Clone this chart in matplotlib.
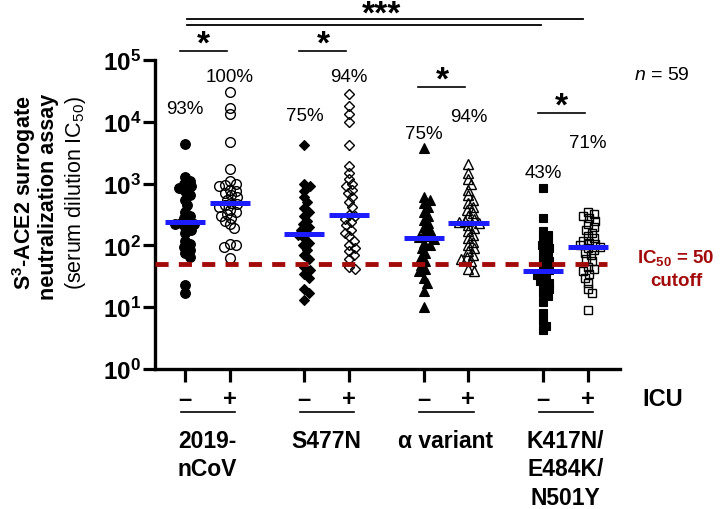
import numpy as np
import matplotlib
matplotlib.use('Agg')
import matplotlib.pyplot as plt
from matplotlib.lines import Line2D
from matplotlib.ticker import NullLocator
from matplotlib.transforms import blended_transform_factory

# フォント設定（Arial 互換）
plt.rcParams['font.family'] = ['Liberation Sans', 'DejaVu Sans']
plt.rcParams['mathtext.fontset'] = 'custom'
plt.rcParams['mathtext.rm'] = 'Liberation Sans'
plt.rcParams['mathtext.it'] = 'Liberation Sans:italic'
plt.rcParams['mathtext.bf'] = 'Liberation Sans:bold'

# ---- データ----
variants = ['2019-\nnCoV', 'S477N', 'α variant', 'K417N/\nE484K/\nN501Y']
icu_labels = ['–', '+']
cutoff = 50
n_total = 59

ncov_neg = [4400, 1300, 1100, 1000, 900, 850, 750, 650, 550, 450, 350, 300, 280, 240,
            230, 225, 220, 200, 180, 160, 120, 105, 95, 85, 75, 65, 23, 17]
ncov_pos = [30000, 17000, 13500, 4700, 1700, 1100, 1000, 950, 900, 800, 750, 700, 650,
            600, 550, 480, 470, 450, 420, 380, 350, 320, 300, 280, 250, 220, 190, 105,
            100, 95, 62]
s477n_neg = [4200, 1000, 900, 750, 600, 500, 400, 350, 300, 250, 220, 200, 180, 160,
             150, 130, 110, 100, 85, 70, 60, 45, 40, 35, 30, 20, 17, 13]
s477n_pos = [28000, 18000, 13500, 10000, 4200, 1900, 1500, 1200, 1000, 900, 800, 700,
             600, 500, 420, 310, 300, 270, 240, 210, 180, 160, 140, 120, 100, 90, 80,
             70, 60, 45, 42]
alpha_neg = [3800, 600, 550, 480, 420, 350, 300, 260, 230, 200, 180, 160, 140, 135,
             125, 110, 100, 90, 75, 65, 55, 48, 42, 38, 30, 25, 18, 10]
alpha_pos = [2100, 1500, 1200, 1000, 800, 650, 550, 480, 420, 380, 340, 300, 270, 250,
             240, 230, 210, 190, 170, 150, 130, 115, 100, 90, 80, 70, 65, 60, 55, 42, 38]
triple_neg = [850, 280, 170, 150, 130, 110, 100, 90, 80, 70, 60, 55, 45, 40, 36, 33,
              30, 27, 25, 22, 20, 17, 15, 12, 8, 6, 5, 4.2]
triple_pos = [350, 320, 300, 280, 250, 220, 200, 180, 160, 140, 130, 120, 110, 105,
              100, 95, 90, 85, 75, 70, 60, 55, 45, 42, 38, 35, 30, 25, 20, 17, 9]

groups = [(ncov_neg, ncov_pos), (s477n_neg, s477n_pos),
          (alpha_neg, alpha_pos), (triple_neg, triple_pos)]
markers = ['o', 'D', '^', 's']
marker_sizes = [7.0, 5.6, 7.6, 6.4]

# ---- レイアウト ----
W, H = 720, 510
PX_UNIT = 44.7      # x 1 単位あたりのピクセル
PX_DECADE = 61.8    # y 1 桁あたりのピクセル
group_x = np.arange(4) * 2.67
pct_y = [110, 78, 117, 78, 135, 118, 173, 143]
bracket_y = [52, 52, 88, 114]
RED = '#a30b0b'
BLUE = '#1c1cff'


def fy(y_px):
    return 1 - y_px / H


def swarm_offsets(vals, min_dist=5.5, step=1.5, max_off=12.0):
    """値が重ならないように横方向のずらし量を決める（ビースウォーム風）"""
    vals = np.asarray(vals, dtype=float)
    y = np.log10(vals) * PX_DECADE
    cands = [0.0]
    k = 1
    while k * step <= max_off:
        cands += [k * step, -k * step]
        k += 1
    placed = []
    offs = np.zeros(len(vals))
    for i in np.argsort(-vals):
        best, best_d = 0.0, -1.0
        for o in cands:
            d = min([np.hypot(o - px, y[i] - py) for px, py in placed] or [1e9])
            if d >= min_dist:
                best = o
                break
            if d > best_d:
                best_d, best = d, o
        offs[i] = best
        placed.append((best, y[i]))
    return offs / PX_UNIT


fig = plt.figure(figsize=(W / 100, H / 100), dpi=100)
ax = fig.add_axes([155 / W, 140 / H, 465 / W, 309 / H])
bt = blended_transform_factory(ax.transData, fig.transFigure)

tick_pos = []
for g, (neg, pos) in enumerate(groups):
    for j, vals in enumerate([neg, pos]):
        x0 = group_x[g] + j
        tick_pos.append(x0)
        xs = x0 + swarm_offsets(vals)
        if j == 0:
            ax.plot(xs, vals, ls='none', marker=markers[g], ms=marker_sizes[g],
                    mfc='black', mec='black', mew=0.8, zorder=2)
        else:
            ax.plot(xs, vals, ls='none', marker=markers[g], ms=marker_sizes[g],
                    mfc='none', mec='black', mew=1.0, zorder=2)
        med = np.median(vals)
        ax.plot([x0 - 0.45, x0 + 0.45], [med, med], color=BLUE, lw=3.6,
                solid_capstyle='butt', zorder=5)
        # 50 を超える割合
        frac = np.mean(np.asarray(vals) > cutoff) * 100
        ax.text(x0, fy(pct_y[len(tick_pos) - 1]), f'{frac:.0f}%', transform=bt,
                ha='center', va='center', fontsize=13.5)

# カットオフ線
xmin, xmax = -30 / PX_UNIT, 435 / PX_UNIT
ax.plot([xmin, 422 / PX_UNIT], [cutoff, cutoff], color=RED, lw=3.5,
        dashes=(2.7, 2.1), zorder=4, clip_on=False)

ax.set_yscale('log')
ax.set_ylim(1, 1e5)
ax.set_xlim(xmin, xmax)
ax.set_yticks([10.0 ** k for k in range(6)])
ax.set_yticklabels([r'$\mathbf{10^{%d}}$' % k for k in range(6)], fontsize=17.5)
ax.yaxis.set_minor_locator(NullLocator())
ax.set_xticks(tick_pos)
ax.set_xticklabels([])
ax.tick_params(axis='both', length=9, width=2.3, pad=1)
for s in ['top', 'right']:
    ax.spines[s].set_visible(False)
for s in ['left', 'bottom']:
    ax.spines[s].set_linewidth(2.4)

# x 軸下のラベル
for g in range(4):
    xm, xp = group_x[g], group_x[g] + 1
    for x0, lab in zip([xm, xp], icu_labels):
        ax.text(x0, fy(400), lab, transform=bt, ha='center', va='center',
                fontsize=17, fontweight='bold')
    ax.add_line(Line2D([xm - 0.1, xp + 0.12], [fy(413), fy(413)], transform=bt,
                       color='black', lw=1.2, clip_on=False))
    ax.text(group_x[g] + 0.5, fy(430), variants[g], transform=bt, ha='center',
            va='top', fontsize=16.5, fontweight='bold', linespacing=1.3)
    # グループ内の *
    ax.add_line(Line2D([xm - 0.12, xp - 0.07], [fy(bracket_y[g])] * 2, transform=bt,
                       color='black', lw=1.2, clip_on=False))
    ax.text(group_x[g] + 0.42, fy(bracket_y[g] + 2), '*', transform=bt,
            ha='center', va='baseline', fontsize=24, fontweight='bold')

fig.text(663 / W, fy(400), 'ICU', ha='center', va='center', fontsize=17,
         fontweight='bold')

# 上部の *** 比較線
x_first = group_x[0] + 0.05
ax.add_line(Line2D([x_first, group_x[3] + 1 - 0.11], [fy(20)] * 2, transform=bt,
                   color='black', lw=1.3, clip_on=False))
ax.add_line(Line2D([x_first, group_x[3] - 0.05], [fy(26)] * 2, transform=bt,
                   color='black', lw=1.3, clip_on=False))
fig.text(382 / W, fy(24), '***', ha='center', va='baseline', fontsize=24,
         fontweight='bold')

fig.text(662 / W, fy(76), f'$n$ = {n_total}', ha='center', va='center', fontsize=14)
fig.text(676 / W, fy(258), r'IC$_{\mathbf{50}}$ = 50', ha='center', va='center',
         fontsize=13.5, fontweight='bold', color=RED)
fig.text(676 / W, fy(282), 'cutoff', ha='center', va='center',
         fontsize=13.5, fontweight='bold', color=RED)

# y 軸ラベル（3 行）
fig.text(24 / W, fy(193), r'S$^{\mathbf{3}}$-ACE2 surrogate', rotation=90,
         ha='center', va='center', fontsize=15.5, fontweight='bold')
fig.text(49 / W, fy(197), 'neutralization assay', rotation=90,
         ha='center', va='center', fontsize=15.5, fontweight='bold')
fig.text(75 / W, fy(193), '(serum dilution IC$_{50}$)', rotation=90,
         ha='center', va='center', fontsize=15.5)

fig.savefig('out.png', dpi=100)
